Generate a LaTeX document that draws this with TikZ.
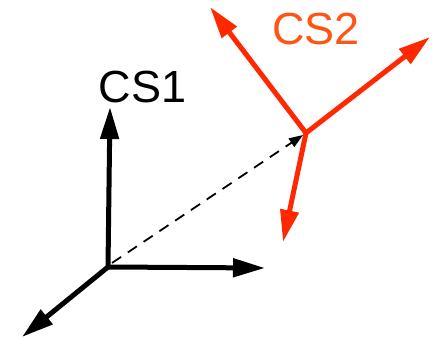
\documentclass[tikz,border=0pt]{standalone}
\usepackage{fontspec}
\setmainfont{Liberation Sans}
\usetikzlibrary{arrows.meta}
\definecolor{csred}{RGB}{255,40,0}
\definecolor{csorange}{RGB}{255,85,20}
\tikzset{
  axis/.style  ={-{Triangle[length=32pt, width=18pt]}, line width=5pt},
  raxis/.style ={axis, csred},
  offs/.style  ={-{Triangle[length=14pt, width=10pt]}, line width=1.8pt, dash pattern=on 11pt off 8pt},
  lbl/.style   ={font=\fontsize{45}{50}\selectfont, inner sep=0pt},
}

\begin{document}
\begin{tikzpicture}[x=1pt, y=1pt]
  \useasboundingbox (0,0) rectangle (438,339);
  % first frame
  \coordinate (o1) at (108,72);
  \coordinate (z1) at (110,232);
  \coordinate (x1) at (265,71);
  \coordinate (y1) at (22,2);
  % second frame
  \coordinate (o2) at (306,206);
  \coordinate (a2) at (210,332);
  \coordinate (b2) at (430,302);
  \coordinate (c2) at (283,97);
  \coordinate (s1) at (112,76);
  \coordinate (s2) at (303,204);
  \node[lbl] (cs1) at (142.5,251.5) {CS1};
  \node[lbl, text=csorange] (cs2) at (316,310) {CS2};
  \draw[axis] (o1) -- (z1);
  \draw[axis] (o1) -- (x1);
  \draw[axis] (o1) -- (y1);
  \draw[offs] (s1) -- (s2);
  \draw[raxis] (o2) -- (a2);
  \draw[raxis] (o2) -- (b2);
  \draw[raxis] (o2) -- (c2);
\end{tikzpicture}
\end{document}
